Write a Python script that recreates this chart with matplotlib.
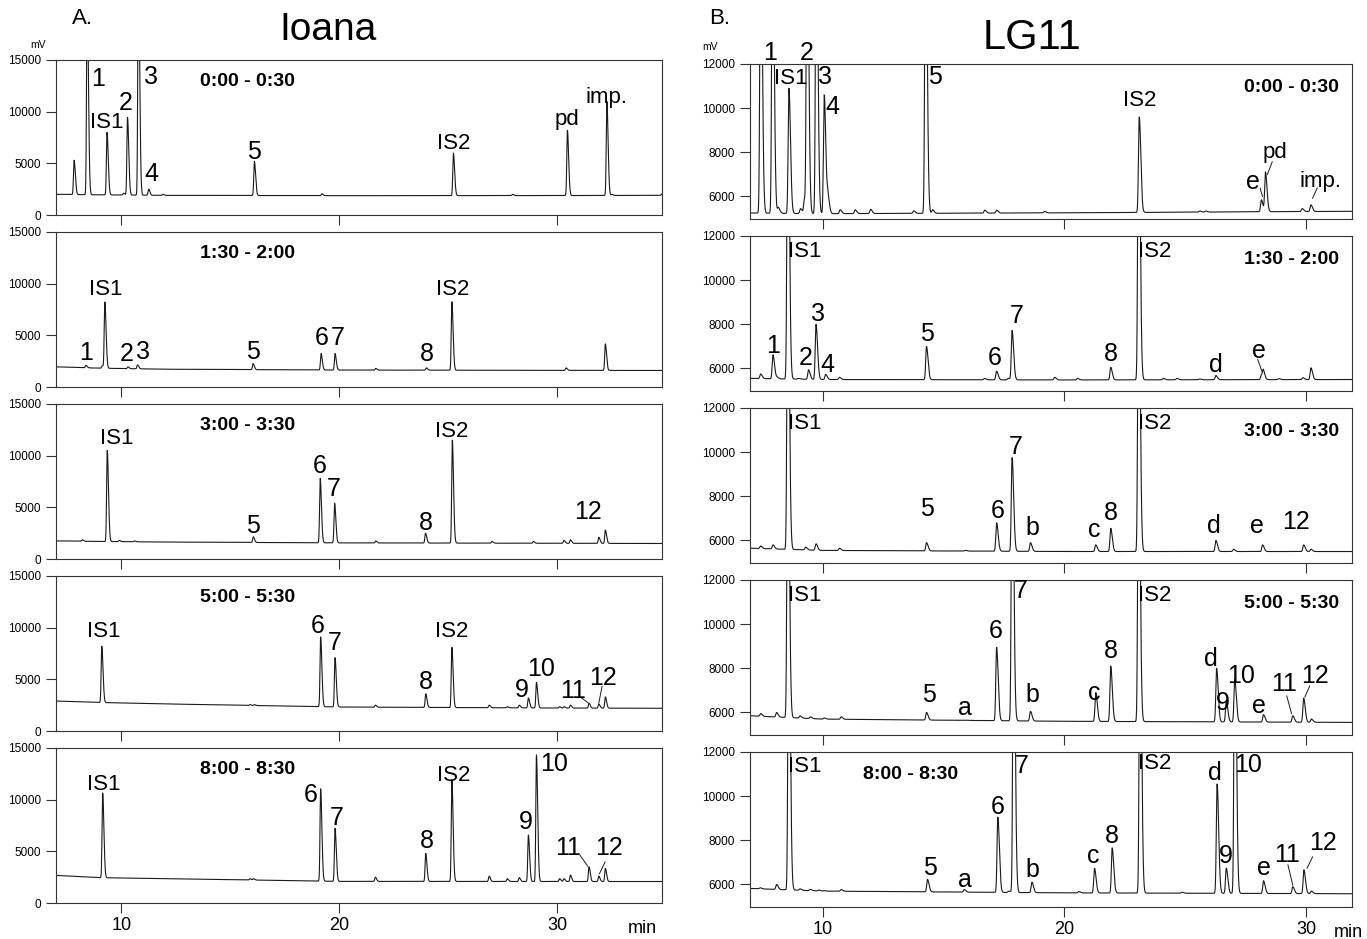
import numpy as np
import matplotlib
matplotlib.use("Agg")
from matplotlib import pyplot as plt

plt.rcParams['font.family'] = ['Liberation Sans', 'DejaVu Sans']

# ---- data (retention time in min, apex in mV) ----
ioana_windows = ['0:00 - 0:30', '1:30 - 2:00', '3:00 - 3:30', '5:00 - 5:30', '8:00 - 8:30']
lg11_windows = ['0:00 - 0:30', '1:30 - 2:00', '3:00 - 3:30', '5:00 - 5:30', '8:00 - 8:30']

# baseline anchors
ioana_base_t = [7, 9, 12, 20, 30, 35]
ioana_base = [
    [2000, 1950, 1900, 1870, 1880, 1900],
    [1950, 1820, 1720, 1640, 1610, 1600],
    [1750, 1700, 1640, 1560, 1520, 1500],
    [2900, 2760, 2620, 2320, 2220, 2200],
    [2670, 2450, 2360, 2090, 2080, 2080],
]
lg11_base_t = [7, 10, 20, 32]
lg11_base = [
    [5250, 5220, 5260, 5330],
    [5550, 5500, 5480, 5500],
    [5650, 5550, 5500, 5500],
    [5850, 5700, 5600, 5550],
    [5820, 5700, 5620, 5580],
]

# peaks: retention times and apex heights
ioana_rt = [
    [7.83, 8.43, 9.34, 10.1, 10.28, 10.78, 11.25, 11.9, 16.1, 19.2, 25.23, 27.95, 30.46, 32.27, 32.5, 34.8],
    [8.37, 9.12, 9.24, 10.3, 10.74, 16.04, 19.16, 19.8, 21.67, 23.99, 25.16, 30.4, 32.2],
    [8.2, 9.35, 9.9, 10.6, 16.05, 19.12, 19.78, 21.67, 23.95, 25.18, 27.0, 28.9, 30.3, 30.6, 31.9, 32.2],
    [9.1, 15.9, 16.1, 19.14, 19.8, 21.65, 23.96, 25.16, 26.87, 27.7, 28.25, 28.67, 29.04, 30.1, 30.3, 30.6, 31.45, 31.9, 32.2],
    [9.14, 15.9, 16.06, 19.14, 19.8, 21.65, 23.96, 25.16, 26.87, 27.7, 28.25, 28.67, 29.04, 30.1, 30.3, 30.6, 31.45, 31.9, 32.2],
]
ioana_h = [
    [5300, 22000, 8000, 2100, 9450, 25000, 2500, 2000, 5200, 2050, 6000, 2000, 8200, 11000, 2000, 2050],
    [2100, 2050, 8200, 1950, 2140, 2260, 3240, 3240, 1800, 1850, 8250, 1850, 4170],
    [1850, 10500, 1800, 1750, 2150, 7800, 5400, 1750, 2500, 11500, 1700, 1700, 1800, 1850, 2100, 2800],
    [8200, 2550, 2550, 9100, 7100, 2500, 3600, 8100, 2500, 2350, 2500, 3200, 4700, 2350, 2350, 2500, 2700, 2600, 3300],
    [10650, 2350, 2350, 11050, 7230, 2500, 4800, 11950, 2600, 2350, 2450, 6580, 14330, 2350, 2350, 2700, 3500, 2600, 3350],
]
lg11_rt = [
    [7.44, 7.93, 8.17, 8.61, 9.09, 9.25, 9.36, 9.74, 10.07, 10.22, 10.73, 11.35, 11.99, 13.77, 14.26, 14.55,
     16.71, 17.2, 19.18, 23.1, 25.6, 25.85, 28.15, 28.32, 29.84, 30.2],
    [7.44, 7.95, 8.12, 8.56, 9.0, 9.42, 9.73, 10.13, 10.7, 14.3, 16.7, 17.2, 17.68, 17.84, 19.6, 20.55, 21.92,
     23.07, 24.1, 24.66, 25.6, 26.27, 28.15, 28.23, 28.87, 29.87, 30.2],
    [7.44, 7.95, 8.56, 9.3, 9.73, 10.7, 14.3, 15.9, 17.2, 17.84, 18.6, 21.3, 21.92, 23.07, 26.27, 27.0, 28.2,
     29.9, 30.2],
    [7.44, 8.1, 8.56, 9.07, 9.5, 10.07, 10.77, 14.3, 15.9, 17.2, 17.84, 18.6, 21.3, 21.92, 23.07, 26.3, 26.7,
     27.05, 28.24, 29.45, 29.9, 30.22],
    [7.42, 8.1, 8.6, 9.07, 9.49, 9.85, 10.07, 10.77, 14.34, 15.86, 17.25, 17.7, 17.9, 18.66, 20.6, 21.25, 21.98,
     23.13, 24.87, 26.32, 26.7, 27.05, 28.24, 29.45, 29.91, 30.22],
]
lg11_h = [
    [20000, 20000, 5500, 10900, 5450, 5850, 20000, 20000, 10600, 6000, 5400, 5400, 5420, 5350, 20000, 5400,
     5380, 5380, 5320, 9600, 5340, 5340, 5850, 7100, 5450, 5620],
    [5750, 6620, 5600, 20000, 5550, 5940, 8000, 5730, 5600, 7000, 5550, 5880, 5550, 7720, 5600, 5550, 6050,
     20000, 5550, 5550, 5520, 5680, 5700, 5870, 5540, 5580, 6030],
    [5750, 5800, 20000, 5700, 5850, 5650, 5900, 5550, 6800, 9750, 5900, 5800, 6550, 20000, 6000, 5600, 5800,
     5800, 5600],
    [5950, 6000, 20000, 5850, 5800, 5750, 5800, 6000, 5650, 8950, 20000, 6050, 6900, 8100, 20000, 8000, 6500,
     7500, 5900, 5850, 6650, 5700],
    [5850, 6000, 20000, 5800, 5780, 5750, 5720, 5770, 6230, 5770, 9050, 5700, 20000, 6100, 5680, 6730, 7660,
     20000, 5650, 10550, 6740, 20000, 6170, 5900, 6660, 5700],
]

# peak labels: (text, time, mV, leader line or None)
ioana_labels = [
    [('1', 8.93, 13200, None), ('3', 11.35, 13400, None), ('2', 10.18, 10800, None), ('IS1', 9.34, 9000, None),
     ('4', 11.39, 4000, None), ('5', 16.08, 6100, None), ('IS2', 25.23, 6900, None), ('pd', 30.46, 9200, None),
     ('imp.', 32.27, 11400, None)],
    [('IS1', 9.28, 9480, None), ('1', 8.37, 3330, None), ('2', 10.22, 3170, None), ('3', 10.98, 3400, None),
     ('5', 16.04, 3400, None), ('6', 19.18, 4700, None), ('7', 19.92, 4700, None), ('8', 24.0, 3170, None),
     ('IS2', 25.2, 9480, None)],
    [('IS1', 9.8, 11700, None), ('5', 16.05, 3200, None), ('6', 19.1, 9000, None), ('7', 19.75, 6800, None),
     ('8', 23.95, 3500, None), ('IS2', 25.15, 12300, None), ('12', 31.4, 4550, None)],
    [('IS1', 9.2, 9600, None), ('6', 19.0, 10200, None), ('7', 19.8, 8500, None), ('8', 23.95, 4700, None),
     ('IS2', 25.15, 9600, None), ('9', 28.35, 4000, None), ('10', 29.25, 6000, None),
     ('11', 30.7, 3900, ((31.05, 3300), (31.4, 2750))), ('12', 32.1, 5100, ((32.05, 4300), (31.9, 2700)))],
    [('IS1', 9.2, 11470, None), ('6', 18.67, 10490, None), ('7', 19.88, 8200, None), ('8', 24.0, 6000, None),
     ('IS2', 25.26, 12350, None), ('9', 28.57, 7800, None), ('10', 29.84, 13420, None),
     ('11', 30.48, 5280, ((31.04, 4620), (31.39, 3570))), ('12', 32.39, 5280, ((32.19, 3970), (31.93, 2830)))],
]
lg11_labels = [
    [('1', 7.84, 12490, None), ('2', 9.34, 12490, None), ('IS1', 8.67, 11340, None), ('3', 10.09, 11420, None),
     ('4', 10.4, 10050, None), ('5', 14.64, 11420, None), ('IS2', 23.1, 10350, None),
     ('e', 27.8, 6640, ((28.1, 6380), (28.2, 6000))), ('pd', 28.72, 7980, ((28.6, 7570), (28.4, 7000))),
     ('imp.', 30.6, 6690, ((30.46, 6380), (30.27, 5920)))],
    [('IS1', 9.25, 11290, None), ('IS2', 23.75, 11290, None), ('1', 7.97, 7010, None), ('2', 9.29, 6480, None),
     ('3', 9.82, 8450, None), ('4', 10.22, 6180, None), ('5', 14.3, 7540, None), ('6', 17.13, 6480, None),
     ('7', 18.04, 8370, None), ('8', 21.92, 6670, None), ('d', 26.27, 6180, None),
     ('e', 28.04, 6790, ((28.0, 6410), (28.17, 5880)))],
    [('IS1', 9.25, 11290, None), ('IS2', 23.75, 11290, None), ('5', 14.34, 7440, None), ('6', 17.23, 7350, None),
     ('7', 17.97, 10250, None), ('b', 18.68, 6560, None), ('c', 21.24, 6470, None), ('8', 21.94, 7250, None),
     ('d', 26.2, 6650, None), ('e', 27.97, 6650, None), ('12', 29.6, 6840, None)],
    [('IS1', 9.25, 11290, None), ('IS2', 23.75, 11290, None), ('5', 14.42, 6800, None), ('a', 15.87, 6200, None),
     ('6', 17.15, 9700, None), ('7', 18.18, 11500, None), ('b', 18.68, 6800, None), ('c', 21.24, 6900, None),
     ('8', 21.94, 8800, None), ('d', 26.07, 8400, None), ('9', 26.57, 6420, None), ('10', 27.3, 7670, None),
     ('e', 28.06, 6280, None), ('11', 29.1, 7300, ((29.2, 6750), (29.4, 5950))),
     ('12', 30.37, 7670, ((30.15, 7200), (29.95, 6700)))],
    [('IS1', 9.25, 11350, None), ('IS2', 23.75, 11460, None), ('5', 14.43, 6740, None), ('a', 15.9, 6200, None),
     ('6', 17.25, 9500, None), ('7', 18.22, 11350, None), ('b', 18.68, 6660, None), ('c', 21.21, 7280, None),
     ('8', 21.98, 8200, None), ('d', 26.23, 11050, None), ('9', 26.7, 7280, None), ('10', 27.62, 11430, None),
     ('e', 28.24, 6740, None), ('11', 29.21, 7350, ((29.25, 6890), (29.45, 5970))),
     ('12', 30.68, 7890, ((30.27, 7250), (30.04, 6740)))],
]


def chromatogram(t, base_t, base, rts, heights, width):
    sig = np.interp(t, base_t, base)
    for rt, h in zip(rts, heights):
        amp = h - np.interp(rt, base_t, base)
        s = np.where(t < rt, width, width * 2.0)
        sig = sig + amp * np.exp(-0.5 * ((t - rt) / s) ** 2)
    return sig


fig = plt.figure(figsize=(13.67, 9.39), dpi=100)
W, H = 1367.0, 939.0


def make_axes(x0, x1, top):
    return fig.add_axes([x0 / W, 1 - (top + 155) / H, (x1 - x0) / W, 155 / H])


line_kw = dict(color='#1a1a1a', lw=0.8)
num_size = 18
lab_size = 16

for col in range(2):
    for i in range(5):
        if col == 0:
            ax = make_axes(56, 662, 60 + 172 * i)
            xlim = (7.0, 34.8)
            ylim = (0, 15000)
            yt = [0, 5000, 10000, 15000]
            t = np.linspace(7.0, 34.8, 30000)
            y = chromatogram(t, ioana_base_t, ioana_base[i], ioana_rt[i], ioana_h[i], 0.028)
            labels = ioana_labels[i]
            window = ioana_windows[i]
            min_x = 33.9
        else:
            ax = make_axes(750, 1352, 64 + 172 * i)
            xlim = (7.0, 31.9)
            ylim = (4980, 12000)
            yt = [6000, 8000, 10000, 12000]
            t = np.linspace(7.0, 31.9, 30000)
            y = chromatogram(t, lg11_base_t, lg11_base[i], lg11_rt[i], lg11_h[i], 0.032)
            labels = lg11_labels[i]
            window = lg11_windows[i]
            min_x = 31.75

        ax.plot(t, y, **line_kw)
        ax.set_xlim(xlim)
        ax.set_ylim(ylim)
        ax.set_yticks(yt)
        ax.set_yticklabels([str(v) for v in yt], fontsize=8.5)
        ax.set_xticks([10, 20, 30])
        ax.tick_params(direction='out', length=7, width=0.8, color='#333333', pad=4)
        if i < 4:
            ax.set_xticklabels([])
        else:
            ax.set_xticklabels(['10', '20', '30'], fontsize=13)
            ax.tick_params(axis='x', pad=3)
            ax.text(min_x, -0.165, 'min', transform=ax.get_xaxis_transform(), ha='center',
                    va='center', fontsize=13)
        for sp in ax.spines.values():
            sp.set_linewidth(0.8)
            sp.set_color('#333333')

        for text, lt, ly, leader in labels:
            small = text.startswith('IS') or text in ('pd', 'imp.')
            ax.text(lt, ly, text, ha='center', va='center', fontsize=lab_size if small else num_size,
                    clip_on=False)
            if leader is not None:
                (a0, b0), (a1, b1) = leader
                ax.plot([a0, a1], [b0, b1], color='#1a1a1a', lw=0.7)

        if col == 0:
            ax.text(15.8, 12900, window, ha='center', va='center', fontsize=14, fontweight='bold')
        elif i < 4:
            ax.text(31.35, 10950, window, ha='right', va='center', fontsize=14, fontweight='bold')
        else:
            ax.text(13.64, 10970, window, ha='center', va='center', fontsize=14, fontweight='bold')

fig.text(30 / W, 1 - 45 / H, 'mV', fontsize=7.5, va='center')
fig.text(702 / W, 1 - 47 / H, 'mV', fontsize=7.5, va='center')
fig.text(82 / W, 1 - 18 / H, 'A.', fontsize=16, ha='center', va='center')
fig.text(720 / W, 1 - 18 / H, 'B.', fontsize=16, ha='center', va='center')
fig.text(328 / W, 1 - 30 / H, 'Ioana', fontsize=28, ha='center', va='center')
fig.text(1032 / W, 1 - 38 / H, 'LG11', fontsize=30, ha='center', va='center')

plt.savefig('out.png', dpi=100)
